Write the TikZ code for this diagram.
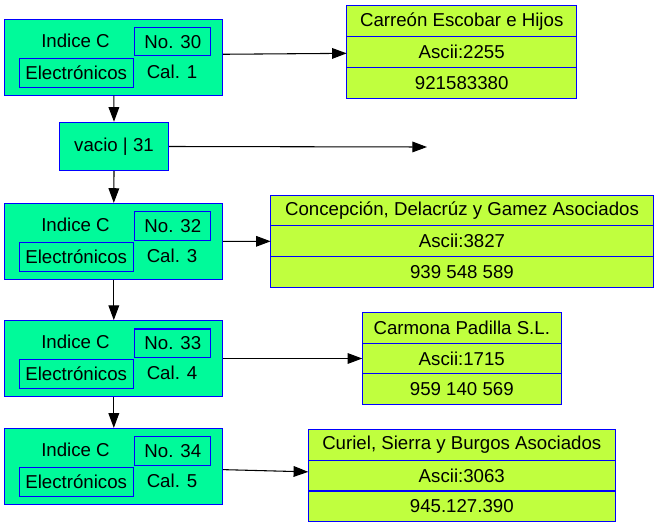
\documentclass[tikz,border=0pt]{standalone}
\usepackage{fontspec}
\setmainfont{Liberation Sans}
\usetikzlibrary{positioning, arrows.meta}
\definecolor{verde}{HTML}{00FA9A}
\definecolor{lima}{HTML}{C0FF3E}
\tikzstyle{every node} = [align = center, font = \fontsize{14}{16}\selectfont]
\tikzstyle{indice} = [draw = blue, fill = verde, line width = 0.8pt, inner sep = 0pt, minimum width = 163.3pt, minimum height = 56.8pt]
\tikzstyle{numero} = [draw = blue, line width = 0.8pt, inner sep = 0pt, minimum width = 56.8pt, minimum height = 21.2pt]
\tikzstyle{categoria} = [draw = blue, line width = 0.8pt, inner sep = 0pt, minimum width = 85.7pt, minimum height = 21.8pt]
\tikzstyle{campo} = [draw = blue, fill = lima, line width = 0.8pt, inner sep = 0pt, outer sep = 0pt, minimum height = 23.1pt]
\tikzstyle{flecha} = [-{Triangle[length = 11pt, width = 8pt]}, line width = 0.8pt]

\begin{document}
\begin{tikzpicture}[x = 0.75pt, y = -0.75pt]
        \useasboundingbox (0, 0) rectangle (659, 528);
        \node [indice] (n1) at (113.8, 57.2) {};
        \node (ind1) at (75.5, 40.5) {Indice C};
        \node [numero] (no1) at (172.8, 41.8) {No. 30};
        \node [categoria] (cat1) at (76.2, 72.8) {Electrónicos};
        \node (cal1) at (172, 72) {Cal. 1};
        \node [indice, minimum width = 82pt, minimum height = 36.3pt] (vacio) at (114, 146.5) {vacio | 31};
        \coordinate (fin) at (427, 147);
        \node [indice] (n3) at (113.8, 241.3) {};
        \node (ind3) at (75.5, 224.6) {Indice C};
        \node [numero] (no3) at (172.8, 225.9) {No. 32};
        \node [categoria] (cat3) at (76.2, 256.9) {Electrónicos};
        \node (cal3) at (172, 256.1) {Cal. 3};
        \node [indice] (n4) at (113.8, 358.5) {};
        \node (ind4) at (75.5, 341.8) {Indice C};
        \node [numero] (no4) at (172.8, 343.1) {No. 33};
        \node [categoria] (cat4) at (76.2, 374.1) {Electrónicos};
        \node (cal4) at (172, 373.3) {Cal. 4};
        \node [indice] (n5) at (113.8, 466.3) {};
        \node (ind5) at (75.5, 449.6) {Indice C};
        \node [numero] (no5) at (172.8, 450.9) {No. 34};
        \node [categoria] (cat5) at (76.2, 481.9) {Electrónicos};
        \node (cal5) at (172, 481.1) {Cal. 5};
        \node [campo, minimum width = 172.5pt] (r1a) at (461.7, 21.2) {Carreón Escobar e Hijos};
        \node [campo, minimum width = 172.5pt, below = 0pt of r1a] (r1b) {Ascii:2255};
        \node [campo, minimum width = 172.5pt, below = 0pt of r1b] (r1c) {921583380};
        \node [campo, minimum width = 287pt] (r3a) at (462, 210.5) {Concepción, Delacrúz y Gamez Asociados};
        \node [campo, minimum width = 287pt, below = 0pt of r3a] (r3b) {Ascii:3827};
        \node [campo, minimum width = 287pt, below = 0pt of r3b] (r3c) {939 548 589};
        \node [campo, minimum width = 149.3pt] (r4a) at (461.8, 327.7) {Carmona Padilla S.L.};
        \node [campo, minimum width = 149.3pt, below = 0pt of r4a] (r4b) {Ascii:1715};
        \node [campo, minimum width = 149.3pt, below = 0pt of r4b] (r4c) {959 140 569};
        \node [campo, minimum width = 230.3pt] (r5a) at (461.8, 444.8) {Curiel, Sierra y Burgos Asociados};
        \node [campo, minimum width = 230.3pt, below = 0pt of r5a] (r5b) {Ascii:3063};
        \node [campo, minimum width = 230.3pt, below = 0pt of r5b] (r5c) {945.127.390};
        \draw [flecha] (n1.south) -- (vacio.north);
        \draw [flecha] (vacio.south) -- (n3.north);
        \draw [flecha] (n3.south) -- (n4.north);
        \draw [flecha] (n4.south) -- (n5.north);
        \draw [flecha] ([yshift = 2.2pt] n1.east) -- ([yshift = -1pt] r1b.west);
        \draw [flecha] (vacio.east) -- (fin);
        \draw [flecha] (n3.east) -- (r3b.west);
        \draw [flecha] (n4.east) -- (r4b.west);
        \draw [flecha] ([yshift = -2.5pt] n5.east) -- ([yshift = 2.8pt] r5b.west);
    \end{tikzpicture}
\end{document}
